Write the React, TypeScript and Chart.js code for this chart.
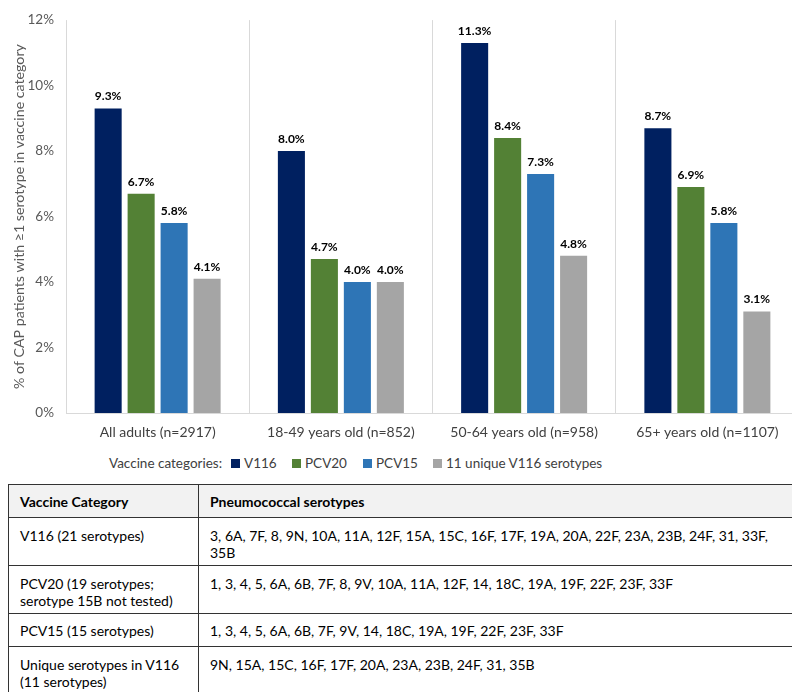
import React, { useEffect, useRef } from "react";
import { Chart, registerables } from "chart.js";

Chart.register(...registerables);

const categories = [
  "All adults (n=2917)",
  "18-49 years old (n=852)",
  "50-64 years old (n=958)",
  "65+ years old (n=1107)",
];
const seriesNames = ["V116", "PCV20", "PCV15", "11 unique V116 serotypes"];
const v116 = [9.3, 8.0, 11.3, 8.7];
const pcv20 = [6.7, 4.7, 8.4, 6.9];
const pcv15 = [5.8, 4.0, 7.3, 5.8];
const unique11 = [4.1, 4.0, 4.8, 3.1];
const seriesColors = ["#002060", "#538135", "#2E75B6", "#A5A5A5"];
const yTicks = [0, 2, 4, 6, 8, 10, 12];
const yTitle = "% of CAP patients with \u22651 serotype in vaccine category";
const legendTitle = "Vaccine categories:";

const tableHeader = ["Vaccine Category", "Pneumococcal serotypes"];
const tableRows: [string[], string[]][] = [
  [["V116 (21 serotypes)"], ["3, 6A, 7F, 8, 9N, 10A, 11A, 12F, 15A, 15C, 16F, 17F, 19A, 20A, 22F, 23A, 23B, 24F, 31, 33F,", "35B"]],
  [["PCV20 (19 serotypes;", "serotype 15B not tested)"], ["1, 3, 4, 5, 6A, 6B, 7F, 8, 9V, 10A, 11A, 12F, 14, 18C, 19A, 19F, 22F, 23F, 33F"]],
  [["PCV15 (15 serotypes)"], ["1, 3, 4, 5, 6A, 6B, 7F, 9V, 14, 18C, 19A, 19F, 22F, 23F, 33F"]],
  [["Unique serotypes in V116", "(11 serotypes)"], ["9N, 15A, 15C, 16F, 17F, 20A, 23A, 23B, 24F, 31, 35B"]],
];
const rowHeights = [48, 48, 33, 48];

const FONT = "Lato, 'Open Sans', sans-serif";

const valueLabels = {
  id: "valueLabels",
  afterDatasetsDraw(chart: any) {
    const ctx = chart.ctx;
    ctx.save();
    ctx.font = `bold 12px ${FONT}`;
    ctx.fillStyle = "#000000";
    ctx.textAlign = "center";
    ctx.textBaseline = "bottom";
    chart.data.datasets.forEach((ds: any, i: number) => {
      const meta = chart.getDatasetMeta(i);
      meta.data.forEach((bar: any, j: number) => {
        ctx.fillText(Number(ds.data[j]).toFixed(1) + "%", bar.x, bar.y - 6);
      });
    });
    ctx.restore();
  },
};

export default function App() {
  const ref = useRef<HTMLCanvasElement>(null);
  useEffect(() => {
    if (!ref.current) return;
    const seriesData = [v116, pcv20, pcv15, unique11];
    const chart = new Chart(ref.current, {
      type: "bar",
      data: {
        labels: categories,
        datasets: seriesNames.map((name, i) => ({
          label: name,
          data: seriesData[i],
          backgroundColor: seriesColors[i],
          borderWidth: 0,
          categoryPercentage: 0.72,
          barPercentage: 0.82,
        })),
      },
      options: {
        responsive: false,
        animation: false,
        layout: { padding: { top: 13, right: 1, left: 0, bottom: 0 } },
        plugins: {
          legend: { display: false },
          tooltip: { enabled: false },
        },
        scales: {
          x: {
            grid: { offset: true, color: "#D9D9D9", drawTicks: false },
            border: { color: "#D9D9D9" },
            ticks: { color: "#404040", font: { family: FONT, size: 14 }, padding: 11 },
            afterFit: (s: any) => { s.height = 37; },
          },
          y: {
            min: 0,
            max: 12,
            grid: { display: false, drawTicks: false },
            border: { display: false },
            afterBuildTicks: (s: any) => { s.ticks = yTicks.map((v) => ({ value: v })); },
            ticks: {
              color: "#595959",
              font: { family: FONT, size: 13.5 },
              padding: 12,
              callback: (v: any) => v + "%",
            },
            title: {
              display: true,
              text: yTitle,
              color: "#595959",
              font: { family: FONT, size: 14.2 },
              padding: { top: 11, bottom: 4 },
            },
            afterFit: (s: any) => { s.width = 66; },
          },
        },
      },
      plugins: [valueLabels],
    });
    return () => chart.destroy();
  }, []);

  const legendX = [231, 292, 363, 433];
  const cell: React.CSSProperties = {
    border: "1.5px solid #333333",
    padding: "9px 11px 0 11px",
    verticalAlign: "top",
    fontFamily: FONT,
    fontSize: 14,
    lineHeight: "17px",
    color: "#000000",
    whiteSpace: "nowrap",
    boxSizing: "border-box",
  };

  return (
    <div style={{ position: "relative", width: 800, height: 700, margin: -8, fontFamily: FONT }}>
      <canvas ref={ref} width={800} height={450} style={{ position: "absolute", left: 0, top: 0 }} />
      <div style={{ position: "absolute", left: 109, top: 454, fontSize: 13.5, color: "#404040", lineHeight: "18px" }}>
        {legendTitle}
      </div>
      {seriesNames.map((n, i) => (
        <div key={n} style={{ position: "absolute", left: legendX[i], top: 454, display: "flex", alignItems: "center", height: 18, fontSize: 13.5, color: "#404040", whiteSpace: "nowrap" }}>
          <span style={{ display: "inline-block", width: 9, height: 9, background: seriesColors[i], marginRight: 4 }} />
          <span>{n}</span>
        </div>
      ))}
      <table style={{ position: "absolute", left: 8, top: 484, width: 785, borderCollapse: "collapse", tableLayout: "fixed" }}>
        <colgroup>
          <col style={{ width: 190 }} />
          <col />
        </colgroup>
        <tbody>
          <tr style={{ height: 33, background: "#F2F2F2" }}>
            {tableHeader.map((h) => (
              <td key={h} style={{ ...cell, fontWeight: "bold", verticalAlign: "middle", paddingTop: 0 }}>{h}</td>
            ))}
          </tr>
          {tableRows.map((r, i) => (
            <tr key={i} style={{ height: rowHeights[i] }}>
              {r.map((lines, k) => (
                <td key={k} style={{ ...cell, verticalAlign: rowHeights[i] < 40 ? "middle" : "top", paddingTop: rowHeights[i] < 40 ? 0 : 9 }}>
                  {lines.map((l, m) => (
                    <div key={m}>{l}</div>
                  ))}
                </td>
              ))}
            </tr>
          ))}
        </tbody>
      </table>
    </div>
  );
}
